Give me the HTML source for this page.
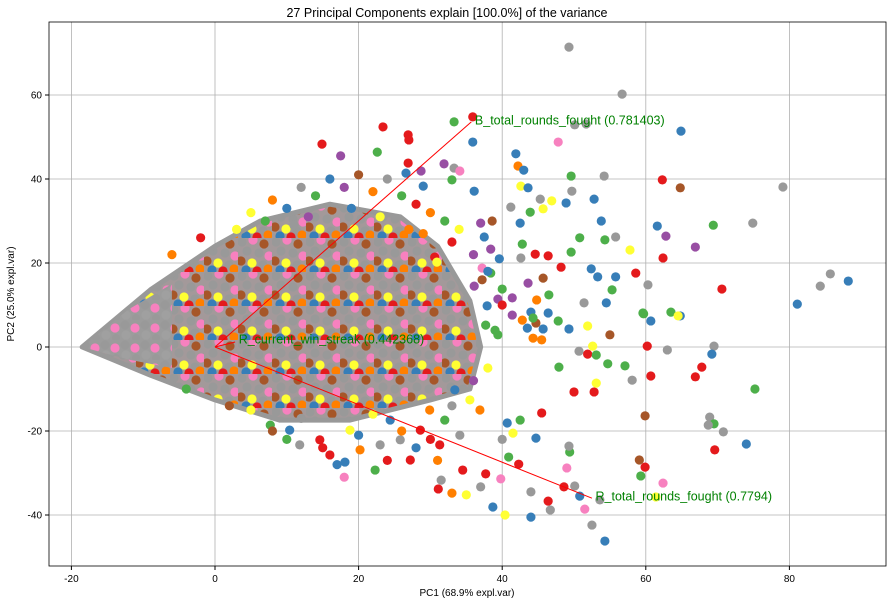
<!DOCTYPE html>
<html><head><meta charset="utf-8"><style>
body{margin:0;background:#fff;font-family:"Liberation Sans",sans-serif}
svg text{font-family:"Liberation Sans",sans-serif}
</style></head><body>
<svg id="chart" width="893" height="604" xmlns="http://www.w3.org/2000/svg">
<defs>
<pattern id="dense" width="34" height="34" patternUnits="userSpaceOnUse">
<rect width="34" height="34" fill="#a3999a"/>
<circle cx="4" cy="4" r="4.6" fill="#999999"/><circle cx="15" cy="2" r="4.6" fill="#f781bf"/>
<circle cx="26" cy="6" r="4.6" fill="#a65628"/><circle cx="9" cy="13" r="4.6" fill="#999999"/>
<circle cx="21" cy="15" r="4.6" fill="#999999"/><circle cx="31" cy="18" r="4.6" fill="#f781bf"/>
<circle cx="3" cy="23" r="4.6" fill="#a65628"/><circle cx="14" cy="25" r="4.6" fill="#ffff33"/>
<circle cx="25" cy="27" r="4.6" fill="#999999"/><circle cx="8" cy="32" r="4.6" fill="#377eb8"/>
<circle cx="19" cy="33" r="4.6" fill="#e41a1c"/><circle cx="30" cy="31" r="4.6" fill="#ff7f00"/>
</pattern>
<pattern id="tipdense" width="20" height="20" patternUnits="userSpaceOnUse">
<rect width="20" height="20" fill="#9c9c9c"/>
<circle cx="5" cy="5" r="4.6" fill="#999999"/><circle cx="15" cy="8" r="4.6" fill="#f781bf"/>
<circle cx="6" cy="15" r="4.6" fill="#a0a0a0"/><circle cx="16" cy="18" r="4" fill="#999999"/>
</pattern>
</defs>
<g id="grid"></g>
<g id="wedge"></g>
<g id="points"></g>
<g id="arrows"></g>
<rect x="49" y="22" width="837" height="544" fill="none" stroke="#000" stroke-width="0.8"/>
<g id="axes"></g>
<text x="447" y="17" text-anchor="middle" font-size="12.5">27 Principal Components explain [100.0%] of the variance</text>
<text x="467" y="596" text-anchor="middle" font-size="10">PC1 (68.9% expl.var)</text>
<text x="14" y="294" text-anchor="middle" font-size="10" transform="rotate(-90 14 294)">PC2 (25.0% expl.var)</text>
</svg>
<script>
const xTicks=[-20,0,20,40,60,80];
const yTicks=[-40,-20,0,20,40,60];
const px=[49.3,56.7,64.9,50.1,51.7,47.8,35.9,33.3,35.9,23.4,14.9,26.9,27.0,17.5,22.6,26.9,26.6,28.7,29.0,31.9,33.3,34.1,33.0,36.1,41.9,42.2,43.0,42.6,43.6,49.6,54.2,49.7,52.8,45.3,46.9,48.9,41.2,43.9,45.7,62.3,64.8,79.1,81.1,84.3,85.7,88.2,74.9,69.4,61.6,62.8,66.9,70.6,63.5,64.8,59.7,60.7,69.5,69.2,67.8,66.9,60.2,60.7,57.8,62.4,58.6,60.3,53.8,55.8,54.3,50.8,49.6,46.4,48.2,44.6,42.6,42.8,42.5,38.6,37.0,37.5,38.4,39.6,52.4,53.3,55.8,55.3,51.4,54.5,59.6,64.5,51.9,55.0,49.3,47.8,46.4,45.7,44.8,45.7,46.5,44.0,43.6,41.4,41.4,42.8,44.7,44.3,40.0,39.4,38.4,37.2,37.2,36.1,37.9,37.7,39.4,50.7,51.9,52.6,63.0,53.1,54.7,57.1,58.1,52.8,68.9,69.5,68.7,70.8,74.0,75.2,59.9,69.6,61.4,62.4,59.9,59.1,59.3,54.3,52.5,51.5,50.1,53.6,46.4,46.7,44.0,48.6,50.8,49.0,49.4,49.3,38.7,40.4,37.7,37.0,39.8,34.5,35.0,33.0,31.1,31.5,44.0,42.3,40.9,42.5,40.7,41.5,45.5,44.7,50.0,47.9,53.1,45.5,43.5,44.3,30.6,30.9,23.0,25.8,28.6,20.2,16.0,18.8,27.2,24.4,29.9,32.0,34.1,35.5,33.4,36.9,31.3,22.3,18.1,11.8,14.6,10.4,7.7,
5,8,10,12,14,16,18,20,22,24,26,28,30,32,34,7,11,19,23,27,33,36,38,40,39,3,-2,-6,13,29,
5,8,12,15,20,22,26,28,30,33,36,38,24,17,10,2,-4,18,31,40];
const py=[71.4,60.2,51.4,52.9,53.1,48.8,54.8,53.6,48.8,52.4,48.3,50.5,49.3,45.5,46.4,43.8,41.4,41.9,38.3,43.6,42.6,41.9,39.8,37.1,46.0,43.1,42.1,38.3,37.9,40.7,40.7,37.1,35.2,35.2,34.8,34.3,33.3,32.1,32.9,39.8,37.9,38.1,10.2,14.5,17.4,15.7,29.5,29.0,28.8,26.4,23.8,13.8,8.3,7.4,7.9,6.2,0.2,-1.7,-4.8,-7.1,0.2,-6.9,23.1,21.2,17.6,14.8,30.0,26.2,25.5,26.0,22.6,21.7,19.0,22.1,21.2,24.5,29.5,30.0,29.5,26.2,23.3,21.0,18.6,16.7,16.7,13.6,10.5,10.5,8.1,7.4,5.0,2.9,4.3,6.2,8.1,4.3,11.2,16.4,12.4,8.3,15.2,11.7,7.6,6.4,5.7,2.1,13.8,11.4,17.6,16.0,18.8,14.5,9.8,5.2,2.9,-1.0,-1.7,0.2,-0.7,-1.9,-4.0,-4.5,-7.9,-10.7,-16.7,-18.3,-18.6,-20.2,-23.1,-10.0,-16.4,-24.5,-35.7,-32.4,-28.6,-26.9,-30.7,-46.2,-42.4,-38.6,-33.1,-36.4,-36.7,-38.8,-40.5,-33.3,-35.5,-28.8,-25.0,-23.6,-38.1,-40.0,-30.2,-33.3,-31.4,-29.3,-35.2,-34.8,-33.8,-31.7,-34.5,-27.9,-26.2,-17.4,-18.1,-20.5,-15.7,-21.7,-10.7,-4.8,-8.6,1.7,4.5,6.9,21.4,20.2,-23.3,-22.1,-19.8,-24.5,-25.7,-19.8,-26.9,-17.4,-15.0,-17.4,-21.0,-12.6,-10.2,-15.0,-23.3,-29.3,-27.4,-23.3,-22.1,-19.8,-18.6,
32,35,33,38,36,40,38,41,37,40,36,34,32,30,28,30,29,33,31,28,25,22,18,10,4,28,26,22,31,27,
-15,-20,-17,-24,-21,-16,-20,-24,-22,-14,-8,-5,-27,-28,-22,-14,-10,-31,-27,-22];
const pc="aabaakrgbrrrrpgrbpbpakgbbobybgaabaybagyrnabaabagbpprgbgbabrrrryrrabagggrrragbnpbpbbbbgabgyynbgbbongbppponogpgnkpbggaryagggaragaabgnrykrngbakaarabrbkgabyrakryoraarggbyrbrgyobgryaaroryrbogayborgbarbgyo"+"bagbpnoagrogygabyorpbrgyropoyna"+"rbyobrapyrbgngkoayor";
const wedgeX=[-18.5,-9,0,6.3,16,25.8,31,35.5,37,35.5,30,18.8,9,0,-9];
const wedgeY=[0,13.6,24,30,34,31,24,11,0,-10,-12.6,-17.4,-17.4,-12.6,-6.7];
const tipX=[-18.5,-12,-6,-6,-12];
const tipY=[0,9,15,-5,-3];
const loadName=["B_total_rounds_fought (0.781403)","R_current_win_streak (0.442368)","R_total_rounds_fought (0.7794)"];
const loadX=[35.7,2.8,52.5];
const loadY=[53.6,1.2,-36];
const labelX=[36.2,3.3,53.0];
const labelY=[53.0,0.8,-36.5];

const colors={r:"#e41a1c",b:"#377eb8",g:"#4daf4a",p:"#984ea3",o:"#ff7f00",y:"#ffff33",n:"#a65628",k:"#f781bf",a:"#999999"};
const NS="http://www.w3.org/2000/svg";
const X=v=>215+v*7.18, Y=v=>347-v*4.2;
function mk(t,a,parent){const e=document.createElementNS(NS,t);for(const k in a)e.setAttribute(k,a[k]);document.getElementById(parent).appendChild(e);return e;}
xTicks.forEach(t=>{
 const l=mk("line",{x1:X(t),x2:X(t),y1:22,y2:566,stroke:"#b0b0b0","stroke-width":0.8},"grid");
 
 
 const tk=mk("line",{x1:X(t),x2:X(t),y1:566,y2:570,stroke:"#000"},"axes");
 
 
 const tx=mk("text",{x:X(t),y:582,"text-anchor":"middle","font-size":10},"axes");tx.textContent=t;
 
 
});
yTicks.forEach(t=>{
 const l=mk("line",{x1:49,x2:886,y1:Y(t),y2:Y(t),stroke:"#b0b0b0","stroke-width":0.8},"grid");
 
 
 const tk=mk("line",{x1:45,x2:49,y1:Y(t),y2:Y(t),stroke:"#000"},"axes");
 
 
 const tx=mk("text",{x:42,y:Y(t)+3.5,"text-anchor":"end","font-size":10},"axes");tx.textContent=t;
 
 
});
const poly=mk("polygon",{points:wedgeX.map((v,i)=>X(v)+","+Y(wedgeY[i])).join(" "),fill:"url(#dense)",stroke:"#999999","stroke-width":5,"stroke-linejoin":"round"},"wedge");


const tip=mk("polygon",{points:tipX.map((v,i)=>X(v)+","+Y(tipY[i])).join(" "),fill:"url(#tipdense)"},"wedge");


px.forEach((v,i)=>{
 const c=mk("circle",{cx:X(v),cy:Y(py[i]),r:4.6,fill:colors[pc[i]]||"#999999"},"points");
 
 
});
loadX.forEach((v,i)=>{
 const l=mk("line",{x1:X(0),y1:Y(0),x2:X(v),y2:Y(loadY[i]),stroke:"#ff0000","stroke-width":1},"arrows");
 
 
 const t=mk("text",{x:X(labelX[i]),y:Y(labelY[i]),fill:"#008000","font-size":12.5},"arrows");t.textContent=loadName[i];
 
 
});
</script>
</body></html>
